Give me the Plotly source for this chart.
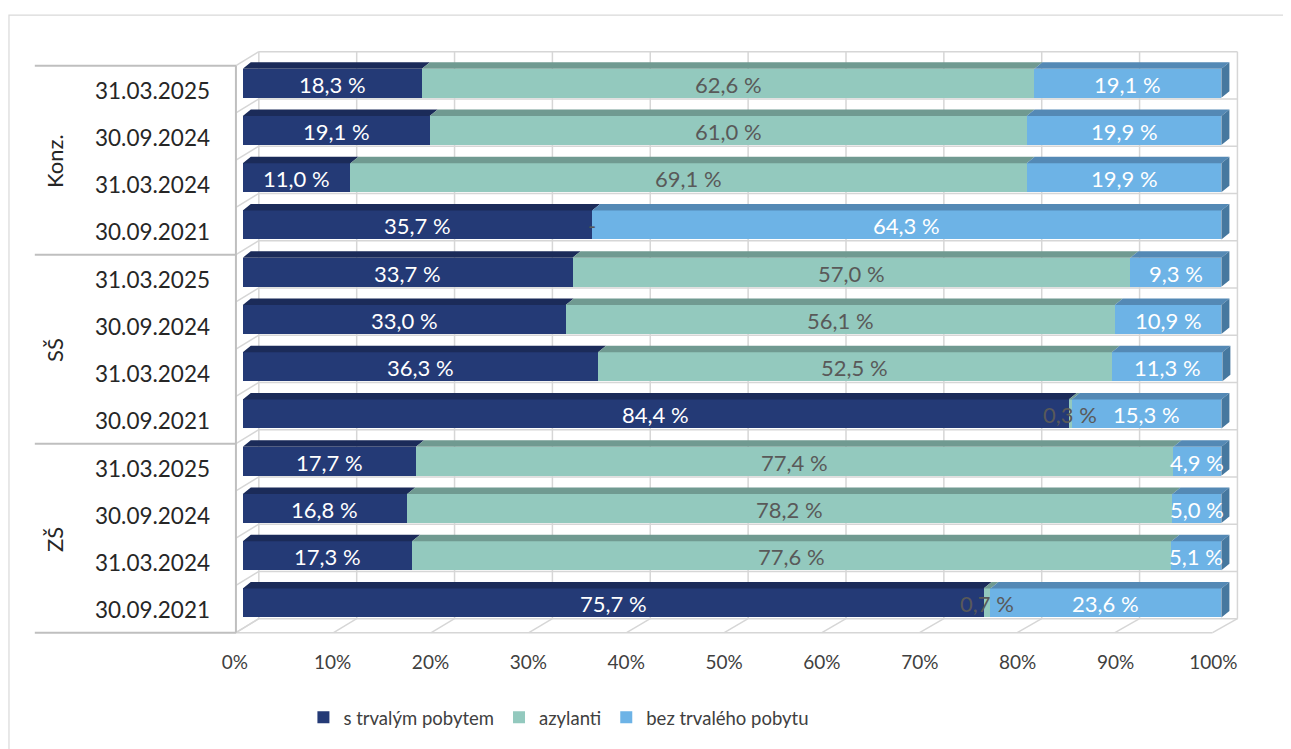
import plotly.graph_objects as go

# ---------------- data (top row first) ----------------
groups = ["Konz.", "SŠ", "ZŠ"]
dates = ["31.03.2025", "30.09.2024", "31.03.2024", "30.09.2021"]
series_names = ["s trvalým pobytem", "azylanti", "bez trvalého pobytu"]

s_trvalym = [18.3, 19.1, 11.0, 35.7, 33.7, 33.0, 36.3, 84.4, 17.7, 16.8, 17.3, 75.7]
azylanti = [62.6, 61.0, 69.1, 0.0, 57.0, 56.1, 52.5, 0.3, 77.4, 78.2, 77.6, 0.7]
bez_trvaleho = [19.1, 19.9, 19.9, 64.3, 9.3, 10.9, 11.3, 15.3, 4.9, 5.0, 5.1, 23.6]

x_ticks = [0, 10, 20, 30, 40, 50, 60, 70, 80, 90, 100]

# ---------------- styling ----------------
front_cols = ["#243A76", "#93C9BE", "#6DB3E6"]
top_cols = ["#1B2B59", "#709A91", "#5489B5"]
side_col = "#46789F"
label_cols = ["#FFFFFF", "#595959", "#FFFFFF"]
FONT = "Lato"
grid_col = "#D6D6D6"

n = len(s_trvalym)
rows = [n - 1 - i for i in range(n)]          # y position (top row highest)
cat_labels = [d for g in groups for d in dates]
values = [s_trvalym, azylanti, bez_trvaleho]

H = 0.614      # bar front height (row units)
DXB, DYB = 0.82, 0.138   # bar depth offset
DXW, DYW = 1.64, 0.296   # back wall offset
FLOOR = -0.63
FRONT_X0 = -0.7

fig = go.Figure()

# front faces
for k in range(3):
    fig.add_trace(go.Bar(
        y=rows, x=values[k], orientation="h", name=series_names[k],
        marker=dict(color=front_cols[k], line=dict(width=0)),
        width=H, hoverinfo="skip"))

# top faces and right end faces (3D look)
for k in range(3):
    xs, ys = [], []
    for i in range(n):
        x0 = sum(values[j][i] for j in range(k))
        x1 = x0 + values[k][i]
        if values[k][i] <= 0:
            continue
        yt = rows[i] + H / 2
        xs += [x0, x1, x1 + DXB, x0 + DXB, x0, None]
        ys += [yt, yt, yt + DYB, yt + DYB, yt, None]
    fig.add_trace(go.Scatter(x=xs, y=ys, mode="lines", line=dict(width=0),
                             fill="toself", fillcolor=top_cols[k],
                             showlegend=False, hoverinfo="skip"))
xs, ys = [], []
for i in range(n):
    tot = s_trvalym[i] + azylanti[i] + bez_trvaleho[i]
    yb, yt = rows[i] - H / 2, rows[i] + H / 2
    xs += [tot, tot + DXB, tot + DXB, tot, tot, None]
    ys += [yb, yb + DYB, yt + DYB, yt, yb, None]
fig.add_trace(go.Scatter(x=xs, y=ys, mode="lines", line=dict(width=0),
                         fill="toself", fillcolor=side_col,
                         showlegend=False, hoverinfo="skip"))

shapes = []
ann = []

# back wall grid
top_back = n - 0.63 + DYW
for t in x_ticks:
    shapes.append(dict(type="line", xref="x", yref="y", x0=t + DXW, x1=t + DXW,
                       y0=FLOOR + DYW, y1=top_back, line=dict(color=grid_col, width=1.5), layer="below"))
    shapes.append(dict(type="line", xref="x", yref="y", x0=t + FRONT_X0 * (1 - t / 100) - 0.9 * t / 100, x1=t + DXW,
                       y0=FLOOR, y1=FLOOR + DYW, line=dict(color=grid_col, width=1.5), layer="below"))
for j in range(n + 1):
    yb = j + FLOOR
    shapes.append(dict(type="line", xref="x", yref="y", x0=DXW, x1=100 + DXW,
                       y0=yb + DYW, y1=yb + DYW, line=dict(color=grid_col, width=1.5), layer="below"))
    shapes.append(dict(type="line", xref="x", yref="y", x0=FRONT_X0, x1=DXW,
                       y0=yb, y1=yb + DYW, line=dict(color=grid_col, width=1.5), layer="below"))
# front floor line
shapes.append(dict(type="line", xref="x", yref="y", x0=FRONT_X0, x1=99.1,
                   y0=FLOOR, y1=FLOOR, line=dict(color=grid_col, width=1.5), layer="below"))

# category axis frame
axis_col = "#BFBFBF"
for gi in range(len(groups) + 1):
    yy = gi * len(dates) + FLOOR
    shapes.append(dict(type="line", xref="paper", yref="y", x0=-0.197, x1=0.003,
                       y0=yy, y1=yy, line=dict(color=axis_col, width=2)))
shapes.append(dict(type="line", xref="x", yref="y", x0=FRONT_X0, x1=FRONT_X0,
                   y0=FLOOR, y1=n + FLOOR, line=dict(color=axis_col, width=2)))

# outer chart border
shapes.append(dict(type="rect", xref="paper", yref="paper", x0=-0.2227, x1=1.06,
                   y0=-0.25, y1=1.047, line=dict(color="#D9D9D9", width=1.2)))

# category labels
for i in range(n):
    ann.append(dict(x=-0.0209, y=rows[i], xref="paper", yref="y", text=cat_labels[i],
                    showarrow=False, xanchor="right", yanchor="middle", yshift=-7,
                    font=dict(family=FONT, size=22.5, color="#262626")))
for gi, g in enumerate(groups):
    yc = (n - 1) - (gi * len(dates) + (len(dates) - 1) / 2)
    ann.append(dict(x=-0.178, y=yc, xref="paper", yref="y", text=g, textangle=-90,
                    showarrow=False, xanchor="center", yanchor="middle", yshift=-7,
                    font=dict(family=FONT, size=22, color="#262626")))

# data labels
for i in range(n):
    cum = 0
    for k in range(3):
        v = values[k][i]
        mid = cum + v / 2
        cum += v
        txt = f"{v:.1f}".replace(".", ",") + " %" if v > 0 else "-"
        ann.append(dict(x=mid, y=rows[i], xref="x", yref="y", text=txt, showarrow=False,
                        xanchor="center", yanchor="middle", yshift=-1,
                        font=dict(family=FONT, size=22, color=label_cols[k] if v > 0 else "#595959")))

fig.update_layout(
    width=1291, height=749,
    margin=dict(l=225, r=60, t=35, b=121),
    paper_bgcolor="white", plot_bgcolor="rgba(0,0,0,0)",
    barmode="stack", bargap=0,
    shapes=shapes, annotations=ann,
    showlegend=True,
    legend=dict(orientation="h", x=0.07, y=-0.138, xanchor="left", yanchor="middle",
                font=dict(family=FONT, size=18.5, color="#404040"), traceorder="normal",
                itemwidth=30),
    font=dict(family=FONT),
)
fig.update_xaxes(range=[-1, 101.8], tickvals=x_ticks, ticktext=[f"{t}%" for t in x_ticks],
                 showgrid=False, zeroline=False, showline=False, ticks="",
                 tickfont=dict(family=FONT, size=19, color="#404040"),
                 ticklabelshift=-8, ticklabelstandoff=13, fixedrange=True)
fig.update_yaxes(range=[-0.7, 11.85], showgrid=False, zeroline=False, showline=False,
                 showticklabels=False, ticks="", fixedrange=True)

fig.write_html("out.html")
